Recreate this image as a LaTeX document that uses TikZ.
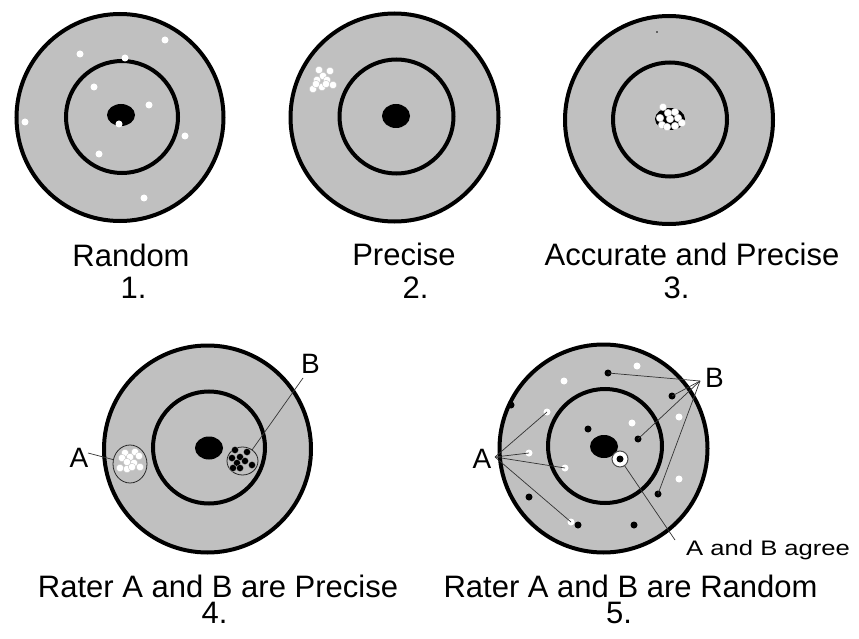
\documentclass[tikz,border=0pt]{standalone}
\usepackage{fontspec}
\usepackage{graphicx}
\setmainfont{Liberation Sans}
\usetikzlibrary{shapes.geometric}
\definecolor{tgray}{RGB}{192,192,192}
\tikzset{
  ring/.style={draw=black,line width=4pt,fill=tgray},
  inring/.style={draw=black,line width=4pt},
  wdot/.style={circle,fill=white,inner sep=0pt,minimum size=7pt},
  cdot/.style={circle,fill=white,draw=gray!45,line width=0.4pt,inner sep=0pt,minimum size=7.5pt},
  bdot/.style={circle,fill=black,inner sep=0pt,minimum size=7pt},
  cbdot/.style={circle,fill=black,draw=gray!60,line width=0.3pt,inner sep=0pt,minimum size=7pt},
  lead/.style={draw=black!80,line width=0.7pt},
  big/.style={font=\fontsize{31}{36}\selectfont,anchor=base,inner sep=0pt},
  lab/.style={font=\fontsize{28}{32}\selectfont,anchor=base,inner sep=0pt},
  encl/.style={ellipse,draw=black!85,line width=0.8pt,inner sep=0pt},
}
\begin{document}
\begin{tikzpicture}[x=1pt,y=-1pt]
\useasboundingbox (0,0) rectangle (859,639);
\fill[white] (0,0) rectangle (859,639);

% ---------- Target 1 ----------
\draw[ring] (120,117.5) circle (103.5);
\draw[inring] (122,117) circle (56);
\fill (121,115) ellipse [x radius=14,y radius=11];
\foreach \p [count=\i] in {(165,40),(80,54),(125,58),(94,87),(149,105),(25,122),(119,124),(185,136),(99,154),(144,198)}
  \node[wdot] (t1d\i) at \p {};
\node[big] (lab1) at (131,266) {Random};
\node[big] (num1) at (133.5,298) {1.};

% ---------- Target 2 ----------
\draw[ring] (394.5,117.5) circle (104);
\draw[inring] (396.5,116.5) circle (57);
\fill (396,116) ellipse [x radius=14,y radius=12];
\foreach \p [count=\i] in {(319,70),(330,71),(323,76),(317,80),(327,80),(333,85),(313,89),(322,87),(316,84),(326,84)}
  \node[cdot] (t2d\i) at \p {};
\node[big] (lab2) at (404,265) {Precise};
\node[big] (num2) at (415.5,298) {2.};

% ---------- Target 3 ----------
\draw[ring] (669,120) circle (104);
\draw[inring] (670,119.5) circle (57);
\fill (670,119) ellipse [x radius=15,y radius=11];
\fill (657,32) circle (0.8);
\foreach \p [count=\i] in {(663,107),(668,113),(675,112),(660,118),(670,119),(678,118),(662,125),(667,127),(675,126),(682,123)}
  \node[cdot] (t3d\i) at \p {};
\node[big] (lab3) at (692,265) {Accurate and Precise};
\node[big] (num3) at (676.5,298) {3.};

% ---------- Target 4 ----------
\draw[ring] (207.5,449) circle (103.5);
\draw[inring] (209,447.5) circle (56);
\fill (209,448) ellipse [x radius=14,y radius=11.5];
\node[encl,minimum width=34pt,minimum height=38pt] (cA) at (130,464) {};
\node[encl,minimum width=31pt,minimum height=28pt] (cB) at (242.5,461) {};
\foreach \p [count=\i] in {(125,453),(135,452),(122,458),(130,457),(139,456),(127,462),(134,463),(140,467),(120,468),(127,469),(132,467)}
  \node[cdot] (t4a\i) at \p {};
\foreach \p [count=\i] in {(235,450),(247,452),(232,458),(240,457),(245,461),(237,463),(252,465),(233,468),(240,468)}
  \node[cbdot] (t4b\i) at \p {};
\node[lab] (A4) at (79,467) {A};
\node[lab] (B4) at (310.5,373) {B};
\coordinate (A4e) at (88,453);
\coordinate (B4e) at (303,378);
\coordinate (B4t) at (252,450);
\draw[lead] (A4e) -- (cA);
\draw[lead] (B4e) -- (B4t);
\node[big] (lab4) at (218,597) {Rater A and B are Precise};
\node[big] (num4) at (214.5,623) {4.};

% ---------- Target 5 ----------
\draw[ring] (603.5,448.5) circle (104);
\draw[inring] (605,446) circle (57);
\fill (604,446.5) ellipse [x radius=14,y radius=11.5];
\foreach \p [count=\i] in {(637,366),(564,381),(632,423),(679,417),(679,479)}
  \node[wdot] (t5w\i) at \p {};
\foreach \p [count=\i] in {(511,405),(588,429),(529,497),(578,525),(634,525)}
  \node[bdot] (t5k\i) at \p {};
\node[wdot] (a1) at (547,412) {};
\node[wdot] (a2) at (529,453) {};
\node[wdot] (a3) at (565,468) {};
\node[wdot] (a4) at (571,522) {};
\node[bdot] (b1) at (608,373) {};
\node[bdot] (b2) at (672,396) {};
\node[bdot] (b3) at (638,439) {};
\node[bdot] (b4) at (658,494) {};
\node[circle,draw=gray!60!black,fill=white,line width=1pt,minimum size=16pt,inner sep=0pt] (agr) at (620,459) {};
\node[bdot] (agrd) at (620,459) {};
\node[lab] (A5) at (482,468) {A};
\node[lab] (B5) at (714.5,387) {B};
\coordinate (A5e) at (495,457);
\coordinate (B5e) at (700,381);
\foreach \d in {a1,a2,a3,a4} \draw[lead] (A5e) -- (\d.center);
\foreach \d in {b1,b2,b3,b4} \draw[lead] (B5e) -- (\d.center);
\coordinate (agrE) at (675,540);
\draw[lead] (agr) -- (agrE);
\node[font=\fontsize{21}{24}\selectfont,anchor=base west,inner sep=0pt] (agree) at (686,555) {\scalebox{1.22}[1]{A and B agree}};
\node[big] (lab5) at (630.5,597) {Rater A and B are Random};
\node[big] (num5) at (619,623) {5.};
\end{tikzpicture}
\end{document}
